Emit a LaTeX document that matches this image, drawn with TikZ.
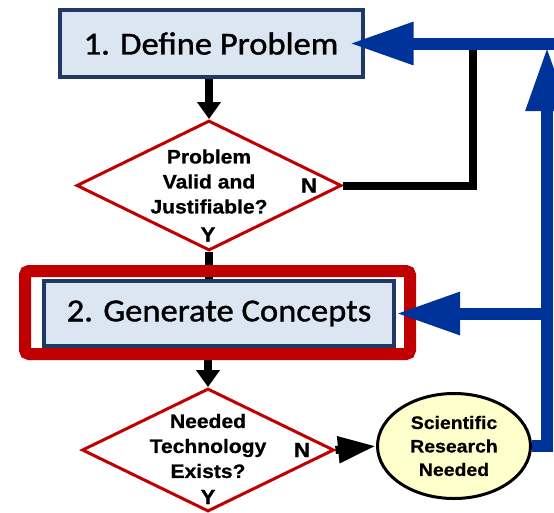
\documentclass[tikz,border=0pt]{standalone}
\usepackage{fontspec}
\setmainfont{Carlito}[FakeStretch=1.08,FakeBold=1.2]
\newfontfamily\arialfont{Liberation Sans}[FakeStretch=1.08,BoldFeatures={FakeBold=0.8}]
\usepackage{tikz}
\tikzset{>=latex}
\usetikzlibrary{arrows.meta,shapes.geometric,backgrounds}
\usepackage{xcolor}
\definecolor{boxfill}{HTML}{DCE6F2}
\definecolor{boxline}{HTML}{1F3864}
\definecolor{askred}{HTML}{C00000}
\definecolor{loopblue}{HTML}{003399}
\definecolor{notefill}{HTML}{FFFFCC}
\tikzstyle{stepbox}=[draw=boxline,line width=4,fill=boxfill,inner sep=0,font=\fontsize{32}{38}\selectfont]
\tikzstyle{ask}=[diamond,draw=askred,line width=3,fill=white,inner sep=0]
\tikzstyle{asktext}=[align=center,inner sep=0,font=\arialfont\bfseries\fontsize{19.5}{25}\selectfont]
\tikzstyle{yn}=[inner sep=0,font=\arialfont\bfseries\fontsize{20.5}{24}\selectfont]
\tikzstyle{flow}=[-{Triangle[length=17pt,width=23pt]},line width=8]
\tikzstyle{loop}=[-{Triangle[length=64pt,width=40pt]},line width=12,loopblue]

\begin{document}
\begin{tikzpicture}[x=1pt,y=-1pt]
  \useasboundingbox (0,0) rectangle (554,512);
  \coordinate (NJ) at (473,43.5); % NO JOIN
  \coordinate (VT) at (547,47);   % BLUE TOP
  \coordinate (VB) at (547,313.5); % BLUE BRANCH
  \coordinate (RE) at (560,43.5); % RIGHT EDGE

  % STEPS
  \node[stepbox,minimum width=303,minimum height=67] (P1) at (211,43.5) {1. Define Problem};
  \node[draw=askred,line width=12,rounded corners=4,minimum width=385,minimum height=83] (F2) at (217.5,312.5) {};
  \node[stepbox,minimum width=350,minimum height=65] (P2) at (219,313.5) {2. Generate Concepts};

  % QUESTIONS
  \node[ask,minimum width=265,minimum height=130] (Q1) at (209,185.5) {};
  \node[asktext] (Q1T) at ([yshift=4]Q1) {Problem\\Valid and\\Justifiable?};
  \node[yn] (Q1N) at (309,185.5) {N};
  \node[yn] (Q1Y) at (208,234.5) {Y};
  \node[ask,minimum width=252,minimum height=123] (Q2) at (208,450) {};
  \node[asktext] (Q2T) at ([yshift=4]Q2) {Needed\\Technology\\Exists?};
  \node[yn] (Q2N) at (302,450) {N};
  \node[yn] (Q2Y) at (208,497) {Y};

  % RESEARCH
  \node[ellipse,draw,line width=3,fill=notefill,inner sep=0,minimum width=153,minimum height=105,
    align=center,font=\arialfont\bfseries\fontsize{18}{23.5}\selectfont] (S) at (454,446)
    {Scientific\\Research\\Needed};

  % CONNECTORS
  \begin{pgfonlayer}{background}
    \draw[line width=8] (Q1.south) -- (Q1.south |- P2.north);
  \end{pgfonlayer}
  \draw[flow] (P1.south -| Q1.north) -- (Q1.north);
  \draw[flow] (F2.south -| Q2.north) -- (Q2.north);
  \draw[-{Triangle[length=38pt,width=25pt]},line width=8] (Q2.east) -- (S.west);
  \draw[line width=8] (Q1.east) -| (NJ);

  % LOOPS
  \draw[loop] (S.east) -| (VT);
  \draw[loop] (VB) -- (P2.east);
  \draw[loop] (RE) -- ([xshift=-15]P1.east);
\end{tikzpicture}
\end{document}
